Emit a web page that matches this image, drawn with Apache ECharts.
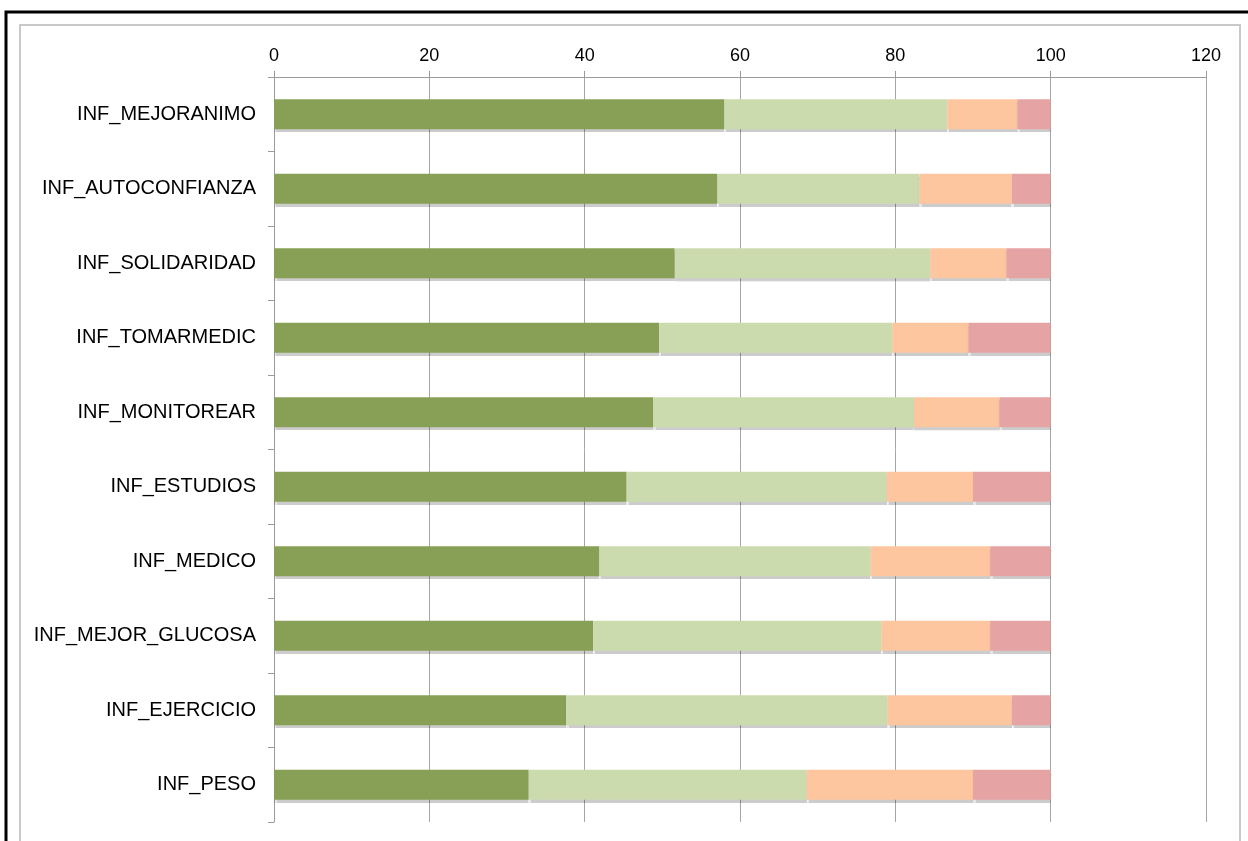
<!DOCTYPE html>
<html>
<head>
<meta charset="utf-8">
<script src="https://cdn.jsdelivr.net/npm/echarts@6/dist/echarts.min.js"></script>
<style>
  html, body { margin: 0; padding: 0; background: #ffffff; }
  #chart { width: 1248px; height: 841px; }
</style>
</head>
<body>
<div id="chart"></div>
<script>
// Categories, top to bottom
const categories = [
  'INF_MEJORANIMO',
  'INF_AUTOCONFIANZA',
  'INF_SOLIDARIDAD',
  'INF_TOMARMEDIC',
  'INF_MONITOREAR',
  'INF_ESTUDIOS',
  'INF_MEDICO',
  'INF_MEJOR_GLUCOSA',
  'INF_EJERCICIO',
  'INF_PESO'
];

// Percentage shares per category (each row sums to 100)
const serie1 = [58.0, 57.1, 51.6, 49.6, 48.8, 45.4, 41.9, 41.1, 37.6, 32.8];
const serie2 = [28.7, 26.0, 32.9, 30.0, 33.6, 33.5, 34.9, 37.1, 41.4, 35.8];
const serie3 = [9.0, 11.9, 9.8, 9.8, 11.0, 11.1, 15.4, 14.0, 16.0, 21.4];
const serie4 = [4.3, 5.0, 5.7, 10.6, 6.6, 10.0, 7.8, 7.8, 5.0, 10.0];

const seriesNames = ['Serie 1', 'Serie 2', 'Serie 3', 'Serie 4'];
const seriesData = [serie1, serie2, serie3, serie4];
const seriesColors = ['#87a055', '#ccdbae', '#fdc69f', '#e6a3a4'];

// Value axis ticks
const xMin = 0, xMax = 120, xStep = 20;

const chart = echarts.init(document.getElementById('chart'), null, { renderer: 'canvas' });

const labelFont = '"Liberation Sans", Arial, Helvetica, sans-serif';

chart.setOption({
  animation: false,
  backgroundColor: '#ffffff',
  graphic: [
    {
      type: 'rect',
      silent: true,
      shape: { x: 6, y: 12, width: 1400, height: 1000 },
      style: { fill: 'none', stroke: '#000000', lineWidth: 3 }
    },
    {
      type: 'rect',
      silent: true,
      shape: { x: 20, y: 25, width: 1220, height: 1000 },
      style: { fill: 'none', stroke: '#c9c9c9', lineWidth: 2 }
    }
  ],
  grid: { left: 274, right: 42, top: 77, bottom: 19, containLabel: false },
  xAxis: {
    type: 'value',
    position: 'top',
    min: xMin,
    max: xMax,
    interval: xStep,
    axisLine: { show: true, lineStyle: { color: '#9a9a9a', width: 1 } },
    axisTick: { show: true, length: 6, lineStyle: { color: '#9a9a9a' } },
    splitLine: { show: true, lineStyle: { color: '#a6a6a6', width: 1 } },
    axisLabel: { color: '#000000', fontSize: 18, fontFamily: labelFont, margin: 12 }
  },
  yAxis: {
    type: 'category',
    data: categories,
    inverse: true,
    axisLine: { show: true, lineStyle: { color: '#9a9a9a', width: 1 } },
    axisTick: { show: true, length: 6, lineStyle: { color: '#9a9a9a' } },
    splitLine: { show: false },
    axisLabel: { color: '#000000', fontSize: 20, fontFamily: labelFont, margin: 18 }
  },
  series: seriesData.map((d, i) => ({
    name: seriesNames[i],
    type: 'bar',
    stack: 'total',
    data: d,
    barWidth: 30,
    itemStyle: {
      color: seriesColors[i],
      shadowColor: 'rgba(0,0,0,0.2)',
      shadowBlur: 1,
      shadowOffsetY: 3
    }
  }))
});
</script>
</body>
</html>
